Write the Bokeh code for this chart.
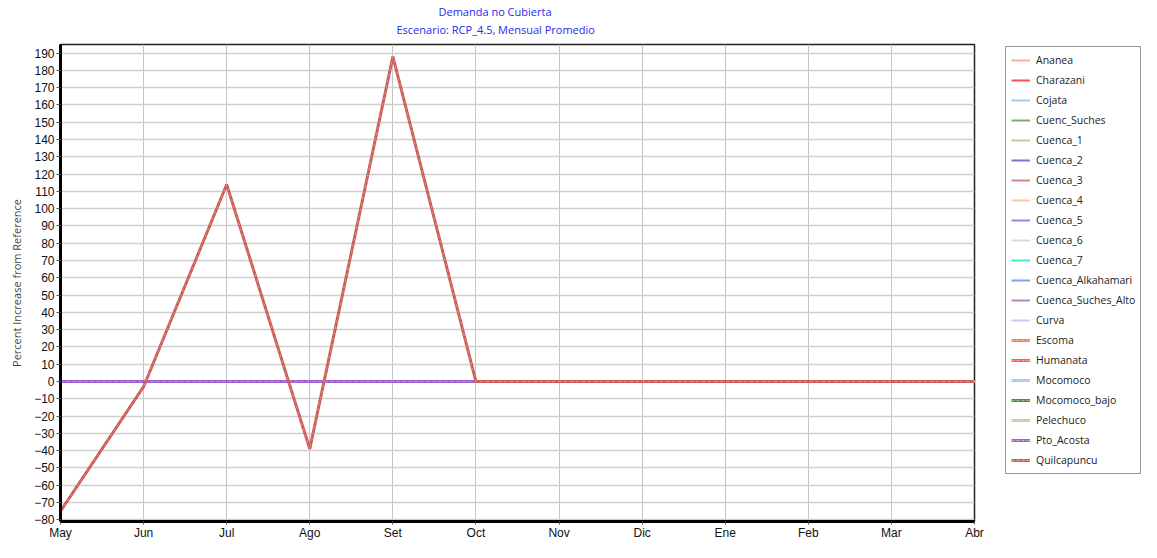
from bokeh.plotting import figure
from bokeh.layouts import row
from bokeh.models import FixedTicker, Range1d, Legend, LegendItem, Title
from bokeh.embed import file_html
from bokeh.resources import INLINE

# months on the x axis
months = ["May", "Jun", "Jul", "Ago", "Set", "Oct", "Nov", "Dic", "Ene", "Feb", "Mar", "Abr"]
month_pos = [0, 1, 2, 3, 4, 5, 6, 7, 8, 9, 10, 11]
y_ticks = [-80, -70, -60, -50, -40, -30, -20, -10, 0, 10, 20, 30, 40, 50, 60, 70, 80,
           90, 100, 110, 120, 130, 140, 150, 160, 170, 180, 190]

# values (percent increase from reference)
flat_zero = [0, 0, 0, 0, 0, 0, 0, 0, 0, 0, 0, 0]
quilcapuncu = [-75, -3, 114, -39, 188, 0, 0, 0, 0, 0, 0, 0]

names = ["Ananea", "Charazani", "Cojata", "Cuenc_Suches", "Cuenca_1", "Cuenca_2", "Cuenca_3",
         "Cuenca_4", "Cuenca_5", "Cuenca_6", "Cuenca_7", "Cuenca_Alkahamari",
         "Cuenca_Suches_Alto", "Curva", "Escoma", "Humanata", "Mocomoco", "Mocomoco_bajo",
         "Pelechuco", "Pto_Acosta", "Quilcapuncu"]
colors = ["#F6B48C", "#FF4F4F", "#A8CBF2", "#7DAA7D", "#C9C98C", "#8C6CCB", "#D08888",
          "#FFC894", "#9C80F2", "#DADADA", "#3FF2C2", "#78A4F0",
          "#B08EB4", "#C6C8FF", "#F3844F", "#FF5A5A", "#9CC8F6", "#4C8C4C",
          "#CACAA0", "#A060D0", "#CC5E58"]
dashed = [False] * 14 + [True] * 7
values = [flat_zero] * 20 + [quilcapuncu]


def lighten(c, f=0.3):
    r, g, b = int(c[1:3], 16), int(c[3:5], 16), int(c[5:7], 16)
    r, g, b = [int(v + (255 - v) * f) for v in (r, g, b)]
    return "#%02X%02X%02X" % (r, g, b)


H = 542
p = figure(width=984, height=H, output_backend="svg", toolbar_location=None,
           x_range=Range1d(0, 11), y_range=Range1d(-81, 195),
           min_border_left=60, min_border_right=10, min_border_top=44, min_border_bottom=0)

# legend lives in its own narrow figure to the right
pl = figure(width=157, height=H, output_backend="svg", toolbar_location=None,
            x_range=Range1d(100, 101), y_range=Range1d(1000, 1001),
            x_axis_location=None, y_axis_location=None, min_border=0,
            outline_line_color=None)
pl.grid.visible = False

items = []
for name, col, dsh, vals in zip(names, colors, dashed, values):
    if dsh:
        p.line(month_pos, vals, line_color=col, line_width=3)
        p.line(month_pos, vals, line_color=lighten(col), line_width=1, line_dash="3 3")
        r1 = pl.line(month_pos, vals, line_color=col, line_width=3)
        r2 = pl.line(month_pos, vals, line_color=lighten(col, 0.45), line_width=1, line_dash="3 2")
        items.append(LegendItem(label=name, renderers=[r1, r2]))
    else:
        p.line(month_pos, vals, line_color=col, line_width=2)
        r1 = pl.line(month_pos, vals, line_color=col, line_width=2)
        items.append(LegendItem(label=name, renderers=[r1]))

legend = Legend(items=items, location=(21, 47), orientation="vertical",
                label_text_font="Open Sans", label_text_font_size="10.5px",
                label_text_color="#222222", glyph_width=19, glyph_height=16,
                label_height=16, spacing=4, padding=5, margin=0, label_standoff=6,
                border_line_color="#333333", border_line_width=1,
                background_fill_color="white", background_fill_alpha=1)
pl.add_layout(legend, "center")

p.add_layout(Title(text="Escenario: RCP_4.5, Mensual Promedio", align="left", offset=336,
                   text_color="#2828F0", text_font="Open Sans", text_font_size="11px",
                   text_font_style="normal", standoff=16), "above")
p.add_layout(Title(text="Demanda no Cubierta", align="left", offset=378,
                   text_color="#2828F0", text_font="Open Sans", text_font_size="11px",
                   text_font_style="normal", standoff=-14), "above")

p.xaxis.ticker = FixedTicker(ticks=month_pos)
p.xaxis.major_label_overrides = {i: m for i, m in zip(month_pos, months)}
p.xaxis.axis_label_standoff = 0
p.yaxis.ticker = FixedTicker(ticks=y_ticks)
p.yaxis.axis_label = "Percent Increase from Reference"
p.yaxis.axis_label_text_font = "Open Sans"
p.yaxis.axis_label_text_font_size = "11px"
p.yaxis.axis_label_text_font_style = "normal"
p.yaxis.axis_label_standoff = 7

for ax in (p.xaxis, p.yaxis):
    ax.axis_line_color = "black"
    ax.axis_line_width = 3
    ax.major_tick_line_color = "#555555"
    ax.major_tick_in = 0
    ax.minor_tick_out = 0
    ax.minor_tick_line_color = None
    ax.major_label_text_font = "Liberation Sans Narrow, Liberation Sans"
    ax.major_label_text_font_size = "12px"
    ax.major_label_text_color = "#111111"
p.xaxis.major_tick_out = 3
p.xaxis.major_label_standoff = 1
p.yaxis.major_tick_out = 4
p.yaxis.major_label_standoff = 2

p.xgrid.grid_line_color = "#C4C4C4"
p.ygrid.grid_line_color = "#CFCFCF"
p.xgrid.grid_line_width = 1
p.ygrid.grid_line_width = 1.5
p.outline_line_color = "#222222"
p.outline_line_width = 1.5
p.background_fill_color = "white"

open("out.html", "w").write(file_html(row(p, pl), INLINE))
